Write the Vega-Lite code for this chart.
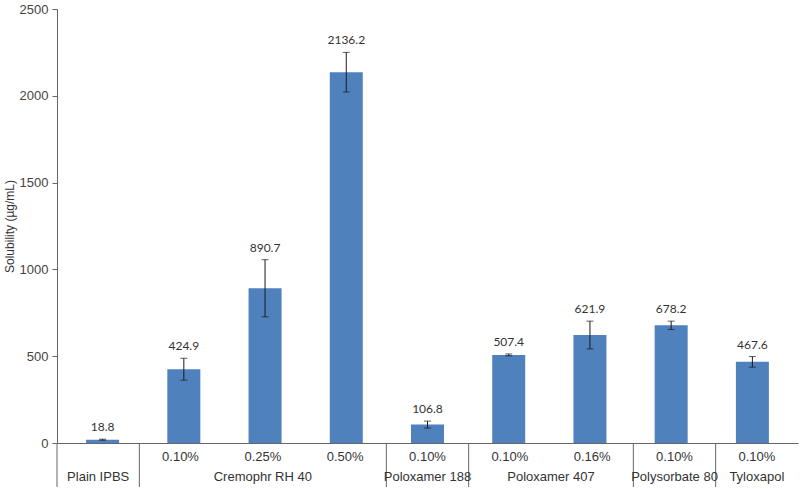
{
  "$schema": "https://vega.github.io/schema/vega-lite/v6.json",
  "padding": {"left": 3, "top": 3, "right": 3, "bottom": 1},
  "background": "white",
  "config": {"view": {"stroke": null}, "concat": {"spacing": 0}, "font": "Liberation Sans"},
  "bounds": "flush",
  "datasets": {
    "bars": [
      {"pos": 1, "group": "Plain IPBS", "conc": "", "value": 18.8, "lo": 16, "hi": 22},
      {"pos": 2, "group": "Cremophr RH 40", "conc": "0.10%", "value": 424.9, "lo": 362, "hi": 488},
      {"pos": 3, "group": "Cremophr RH 40", "conc": "0.25%", "value": 890.7, "lo": 727, "hi": 1056},
      {"pos": 4, "group": "Cremophr RH 40", "conc": "0.50%", "value": 2136.2, "lo": 2022, "hi": 2250},
      {"pos": 5, "group": "Poloxamer 188", "conc": "0.10%", "value": 106.8, "lo": 86, "hi": 126},
      {"pos": 6, "group": "Poloxamer 407", "conc": "0.10%", "value": 507.4, "lo": 502, "hi": 513},
      {"pos": 7, "group": "Poloxamer 407", "conc": "0.16%", "value": 621.9, "lo": 542, "hi": 702},
      {"pos": 8, "group": "Polysorbate 80", "conc": "0.10%", "value": 678.2, "lo": 654, "hi": 702},
      {"pos": 9, "group": "Tyloxapol", "conc": "0.10%", "value": 467.6, "lo": 437, "hi": 498}
    ],
    "bounds": [{"b": 0.5}, {"b": 1.5}, {"b": 4.5}, {"b": 5.5}, {"b": 7.5}, {"b": 8.5}]
  },
  "vconcat": [
    {
      "width": 741,
      "height": 434,
      "data": {"name": "bars"},
      "encoding": {
        "x": {"field": "pos", "type": "quantitative", "scale": {"domain": [0.5, 9.5], "nice": false, "zero": false},
              "axis": {"labels": false, "ticks": false, "grid": false, "title": null, "domainColor": "#666", "minExtent": 0, "maxExtent": 0}}
      },
      "layer": [
        {
          "mark": {"type": "bar", "size": 33, "color": "#4F81BD"},
          "encoding": {
            "y": {"field": "value", "type": "quantitative", "title": "Solubility (µg/mL)", "scale": {"domain": [0, 2500], "nice": false},
                  "axis": {"titleFontSize": 12, "titleFontWeight": "normal", "titleColor": "#333",
                           "titlePadding": 3, "labelFontSize": 13, "labelColor": "#444", "tickSize": 5, "tickColor": "#666", "format": "d",
                           "domainColor": "#666", "grid": false, "values": [0, 500, 1000, 1500, 2000, 2500], "labelPadding": 4}}
          }
        },
        {
          "mark": {"type": "errorbar", "ticks": {"size": 7, "color": "#1a1a1a"}, "color": "#1a1a1a", "thickness": 1},
          "encoding": {
            "y": {"field": "lo", "type": "quantitative", "title": "Solubility (µg/mL)"},
            "y2": {"field": "hi"}
          }
        },
        {
          "mark": {"type": "text", "font": "Lato", "fontSize": 12, "color": "#333", "baseline": "middle", "dy": -12},
          "encoding": {
            "y": {"field": "hi", "type": "quantitative", "title": "Solubility (µg/mL)"},
            "text": {"field": "value", "type": "quantitative", "format": ".1f"}
          }
        }
      ]
    },
    {
      "width": 741,
      "height": 44,
      "layer": [
        {
          "data": {"name": "bounds"},
          "mark": {"type": "rule", "color": "#666", "strokeWidth": 1},
          "encoding": {
            "x": {"field": "b", "type": "quantitative", "scale": {"domain": [0.5, 9.5], "nice": false, "zero": false}, "axis": null}
          }
        },
        {
          "data": {"name": "bars"},
          "mark": {"type": "text", "fontSize": 13, "color": "#333", "baseline": "middle"},
          "encoding": {
            "x": {"field": "pos", "type": "quantitative", "scale": {"domain": [0.5, 9.5], "nice": false, "zero": false}, "axis": null},
            "y": {"datum": "c", "type": "ordinal", "scale": {"type": "point", "domain": ["c", "g"], "range": [14, 34], "padding": 0}, "axis": null},
            "text": {"field": "conc"}
          }
        },
        {
          "data": {"name": "bars"},
          "transform": [{"aggregate": [{"op": "mean", "field": "pos", "as": "center"}], "groupby": ["group"]}],
          "mark": {"type": "text", "fontSize": 13, "color": "#333", "baseline": "middle"},
          "encoding": {
            "x": {"field": "center", "type": "quantitative", "scale": {"domain": [0.5, 9.5], "nice": false, "zero": false}, "axis": null},
            "y": {"datum": "g", "type": "ordinal", "scale": {"type": "point", "domain": ["c", "g"], "range": [14, 34], "padding": 0}, "axis": null},
            "text": {"field": "group"}
          }
        }
      ]
    }
  ]
}
